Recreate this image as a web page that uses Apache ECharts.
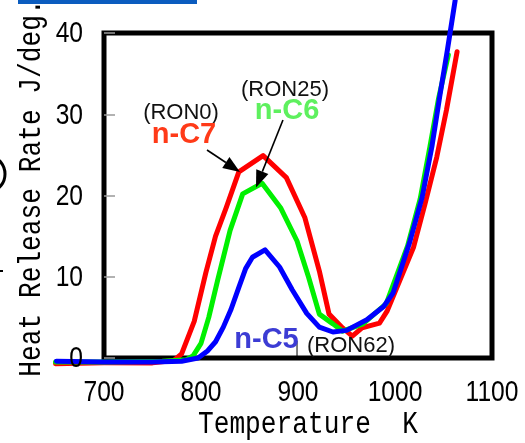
<!DOCTYPE html>
<html>
<head>
<meta charset="utf-8">
<script src="https://cdn.jsdelivr.net/npm/echarts@6/dist/echarts.min.js"></script>
<style>
  html, body { margin: 0; padding: 0; background: #fff; }
  #chart { width: 525px; height: 443px; }
</style>
</head>
<body>
<div id="chart"></div>
<script>
// Axis ranges and tick labels
const xTicks = [700, 800, 900, 1000, 1100];
const yTicks = [0, 10, 20, 30, 40];
// the measured curves start a little before the first labelled temperature
const xDataStart = 650;

// n-C7 (RON0): temperature [K] and heat release rate [J/deg.]
const c7Temp = [650, 700, 750, 772, 780, 793, 805, 815, 826, 839, 864, 888, 907, 922, 932, 946, 956, 966, 984, 992, 1019, 1031, 1043, 1053, 1064];
const c7Rate = [-0.7, -0.6, -0.6, -0.3, 0.5, 4.5, 10.5, 15.0, 18.5, 22.9, 24.9, 22.2, 17.3, 10.7, 5.4, 3.7, 2.7, 3.7, 4.3, 5.8, 13.6, 19.0, 24.7, 30.5, 37.7];

// n-C6 (RON25)
const c6Temp = [650, 700, 760, 785, 792, 800, 808, 817, 830, 843, 863, 882, 899, 911, 922, 936, 946, 967, 991, 1013, 1026, 1036, 1045, 1055];
const c6Rate = [-0.5, -0.5, -0.4, -0.2, 0.3, 1.8, 5.0, 9.5, 15.7, 20.2, 21.5, 18.5, 14.4, 9.9, 5.4, 4.2, 3.3, 4.2, 6.7, 13.8, 19.6, 26.0, 32.0, 37.3];

// n-C5 (RON62)
const c5Temp = [651, 700, 750, 780, 797, 807, 815, 823, 831, 839, 846, 853, 866, 881, 894, 909, 922, 936, 950, 971, 988, 998, 1015, 1028, 1038, 1046, 1054, 1062];
const c5Rate = [-0.4, -0.5, -0.5, -0.4, 0.0, 0.9, 2.0, 3.8, 6.0, 8.7, 11.0, 12.4, 13.3, 11.2, 8.4, 5.5, 3.8, 3.2, 3.4, 4.7, 6.3, 8.0, 14.2, 19.8, 26.0, 32.1, 37.9, 44.0];

const pairs = (xs, ys) => xs.map((x, i) => [x, ys[i]]);

const numFont = "'Liberation Sans', Arial, sans-serif";
const labelFont = "'Liberation Sans', Arial, sans-serif";
const titleFont = "'Liberation Mono', 'DejaVu Sans Mono', monospace";

// Frame geometry
const frame = { left: 104, right: 33, top: 33, bottom: 85 };
const chartW = 525;
const pxPerK = (chartW - frame.left - frame.right) / (xTicks[xTicks.length - 1] - xTicks[0]);

function curve(name, data, color) {
  return {
    name: name,
    type: 'line',
    xAxisIndex: 1,
    yAxisIndex: 1,
    data: data,
    showSymbol: false,
    symbol: 'none',
    clip: false,
    lineStyle: { color: color, width: 5, join: 'round', cap: 'round' },
    itemStyle: { color: color }
  };
}

const chart = echarts.init(document.getElementById('chart'), null, { renderer: 'canvas' });

chart.setOption({
  animation: false,
  backgroundColor: '#fff',
  grid: [
    {
      left: frame.left, right: frame.right, top: frame.top, bottom: frame.bottom,
      show: true, borderColor: '#000', borderWidth: 5, backgroundColor: 'transparent'
    },
    {
      // same vertical scale, x range extended left so the curves run past the frame
      left: frame.left - (xTicks[0] - xDataStart) * pxPerK,
      right: frame.right, top: frame.top, bottom: frame.bottom,
      show: false
    }
  ],
  xAxis: [
    {
      type: 'value', gridIndex: 0,
      min: xTicks[0], max: xTicks[xTicks.length - 1], interval: xTicks[1] - xTicks[0],
      axisLine: { show: false },
      axisTick: { show: false },
      splitLine: { show: false },
      axisLabel: { show: false }
    },
    {
      type: 'value', gridIndex: 1,
      min: xDataStart, max: xTicks[xTicks.length - 1],
      show: false
    }
  ],
  yAxis: [
    {
      type: 'value', gridIndex: 0,
      min: yTicks[0], max: yTicks[yTicks.length - 1], interval: yTicks[1] - yTicks[0],
      axisLine: { show: false },
      axisTick: { show: true, inside: true, length: 11, lineStyle: { color: '#999', width: 1.5 } },
      splitLine: { show: false },
      axisLabel: { show: false }
    },
    {
      type: 'value', gridIndex: 1,
      min: yTicks[0], max: yTicks[yTicks.length - 1],
      show: false
    }
  ],
  series: [
    curve('n-C7', pairs(c7Temp, c7Rate), '#ff0000'),
    curve('n-C6', pairs(c6Temp, c6Rate), '#00f000'),
    curve('n-C5', pairs(c5Temp, c5Rate), '#0000ff')
  ]
});

// Labels and arrows placed in data coordinates of the framed axes
const toPx = (t, v) => chart.convertToPixel({ gridIndex: 0 }, [t, v]);

const graphics = [];

// Tick labels in a condensed face
xTicks.forEach(t => {
  const p = toPx(t, yTicks[0]);
  graphics.push({
    type: 'text', z: 30, x: p[0], y: p[1] + 35, scaleX: 0.82,
    style: { text: String(t), fill: '#000', font: '30px ' + numFont, textAlign: 'center', textVerticalAlign: 'middle' }
  });
});
yTicks.forEach(v => {
  const p = toPx(xTicks[0], v);
  graphics.push({
    type: 'text', z: 30, x: p[0] - 21, y: p[1] + 1, scaleX: 0.82,
    style: { text: String(v), fill: '#000', font: '30px ' + numFont, textAlign: 'right', textVerticalAlign: 'middle' }
  });
});

const notes = [
  { text: '(RON0)',  at: [779.4, 30.15], size: 22, bold: false, color: '#111' },
  { text: 'n-C7',    at: [782.5, 27.45], size: 29, bold: true,  color: '#ff3a18' },
  { text: '(RON25)', at: [886.6, 33.0],  size: 22, bold: false, color: '#111' },
  { text: 'n-C6',    at: [888.7, 30.4],  size: 29, bold: true,  color: '#5ef05e' },
  { text: 'n-C5',    at: [867.5, 2.2],   size: 29, bold: true,  color: '#3c3cd4' },
  { text: '(RON62)', at: [954.6, 1.5],   size: 22, bold: false, color: '#111' }
];

const arrows = [
  { from: [806.2, 25.6], to: [840.2, 22.9] },
  { from: [884.5, 29.3], to: [856.7, 21.0] }
];

// leader tick between the n-C5 label and its RON note
const l0 = toPx(899, 2.1), l1 = toPx(899, 0);
graphics.push({
  type: 'line', z: 50,
  shape: { x1: l0[0], y1: l0[1], x2: l1[0], y2: l1[1] },
  style: { stroke: '#000', lineWidth: 1 }
});

notes.forEach(n => {
  const p = toPx(n.at[0], n.at[1]);
  graphics.push({
    type: 'text', z: 60,
    x: p[0], y: p[1],
    style: {
      text: n.text,
      fill: n.color,
      font: (n.bold ? 'bold ' : '') + n.size + 'px ' + labelFont,
      textAlign: 'center',
      textVerticalAlign: 'middle'
    }
  });
});

arrows.forEach(a => {
  const p0 = toPx(a.from[0], a.from[1]);
  const p1 = toPx(a.to[0], a.to[1]);
  const dx = p1[0] - p0[0], dy = p1[1] - p0[1];
  const len = Math.sqrt(dx * dx + dy * dy);
  const ux = dx / len, uy = dy / len;
  const headLen = 17, headHalf = 6.5;
  const bx = p1[0] - ux * headLen, by = p1[1] - uy * headLen;
  graphics.push({
    type: 'line', z: 55,
    shape: { x1: p0[0], y1: p0[1], x2: bx, y2: by },
    style: { stroke: '#000', lineWidth: 1.6 }
  });
  graphics.push({
    type: 'polygon', z: 55,
    shape: { points: [
      [p1[0], p1[1]],
      [bx - uy * headHalf, by + ux * headHalf],
      [bx + uy * headHalf, by - ux * headHalf]
    ] },
    style: { fill: '#000' }
  });
});

// Axis titles (narrow gothic-style monospace)
graphics.push({
  type: 'text', z: 60,
  x: 308, y: 425, scaleX: 0.845,
  style: {
    text: 'Temperature  K',
    fill: '#000',
    font: '31px ' + titleFont,
    textAlign: 'center',
    textVerticalAlign: 'middle'
  }
});
graphics.push({
  type: 'text', z: 60,
  x: 32, y: 188, rotation: Math.PI / 2, scaleX: 0.845,
  style: {
    text: 'Heat Release Rate J/deg.',
    fill: '#000',
    font: '31px ' + titleFont,
    textAlign: 'center',
    textVerticalAlign: 'middle'
  }
});

// Page edge decorations
graphics.push({
  type: 'rect', z: 40,
  shape: { x: 18, y: 0, width: 179, height: 4 },
  style: { fill: '#0b5cbf' }
});
graphics.push({
  type: 'ellipse', z: 40,
  shape: { cx: -8, cy: 174, rx: 13, ry: 16 },
  style: { stroke: '#000', lineWidth: 3, fill: 'none' }
});
graphics.push({
  type: 'rect', z: 40,
  shape: { x: 0, y: 270, width: 3, height: 2 },
  style: { fill: '#000' }
});

chart.setOption({ graphic: graphics });
</script>
</body>
</html>
